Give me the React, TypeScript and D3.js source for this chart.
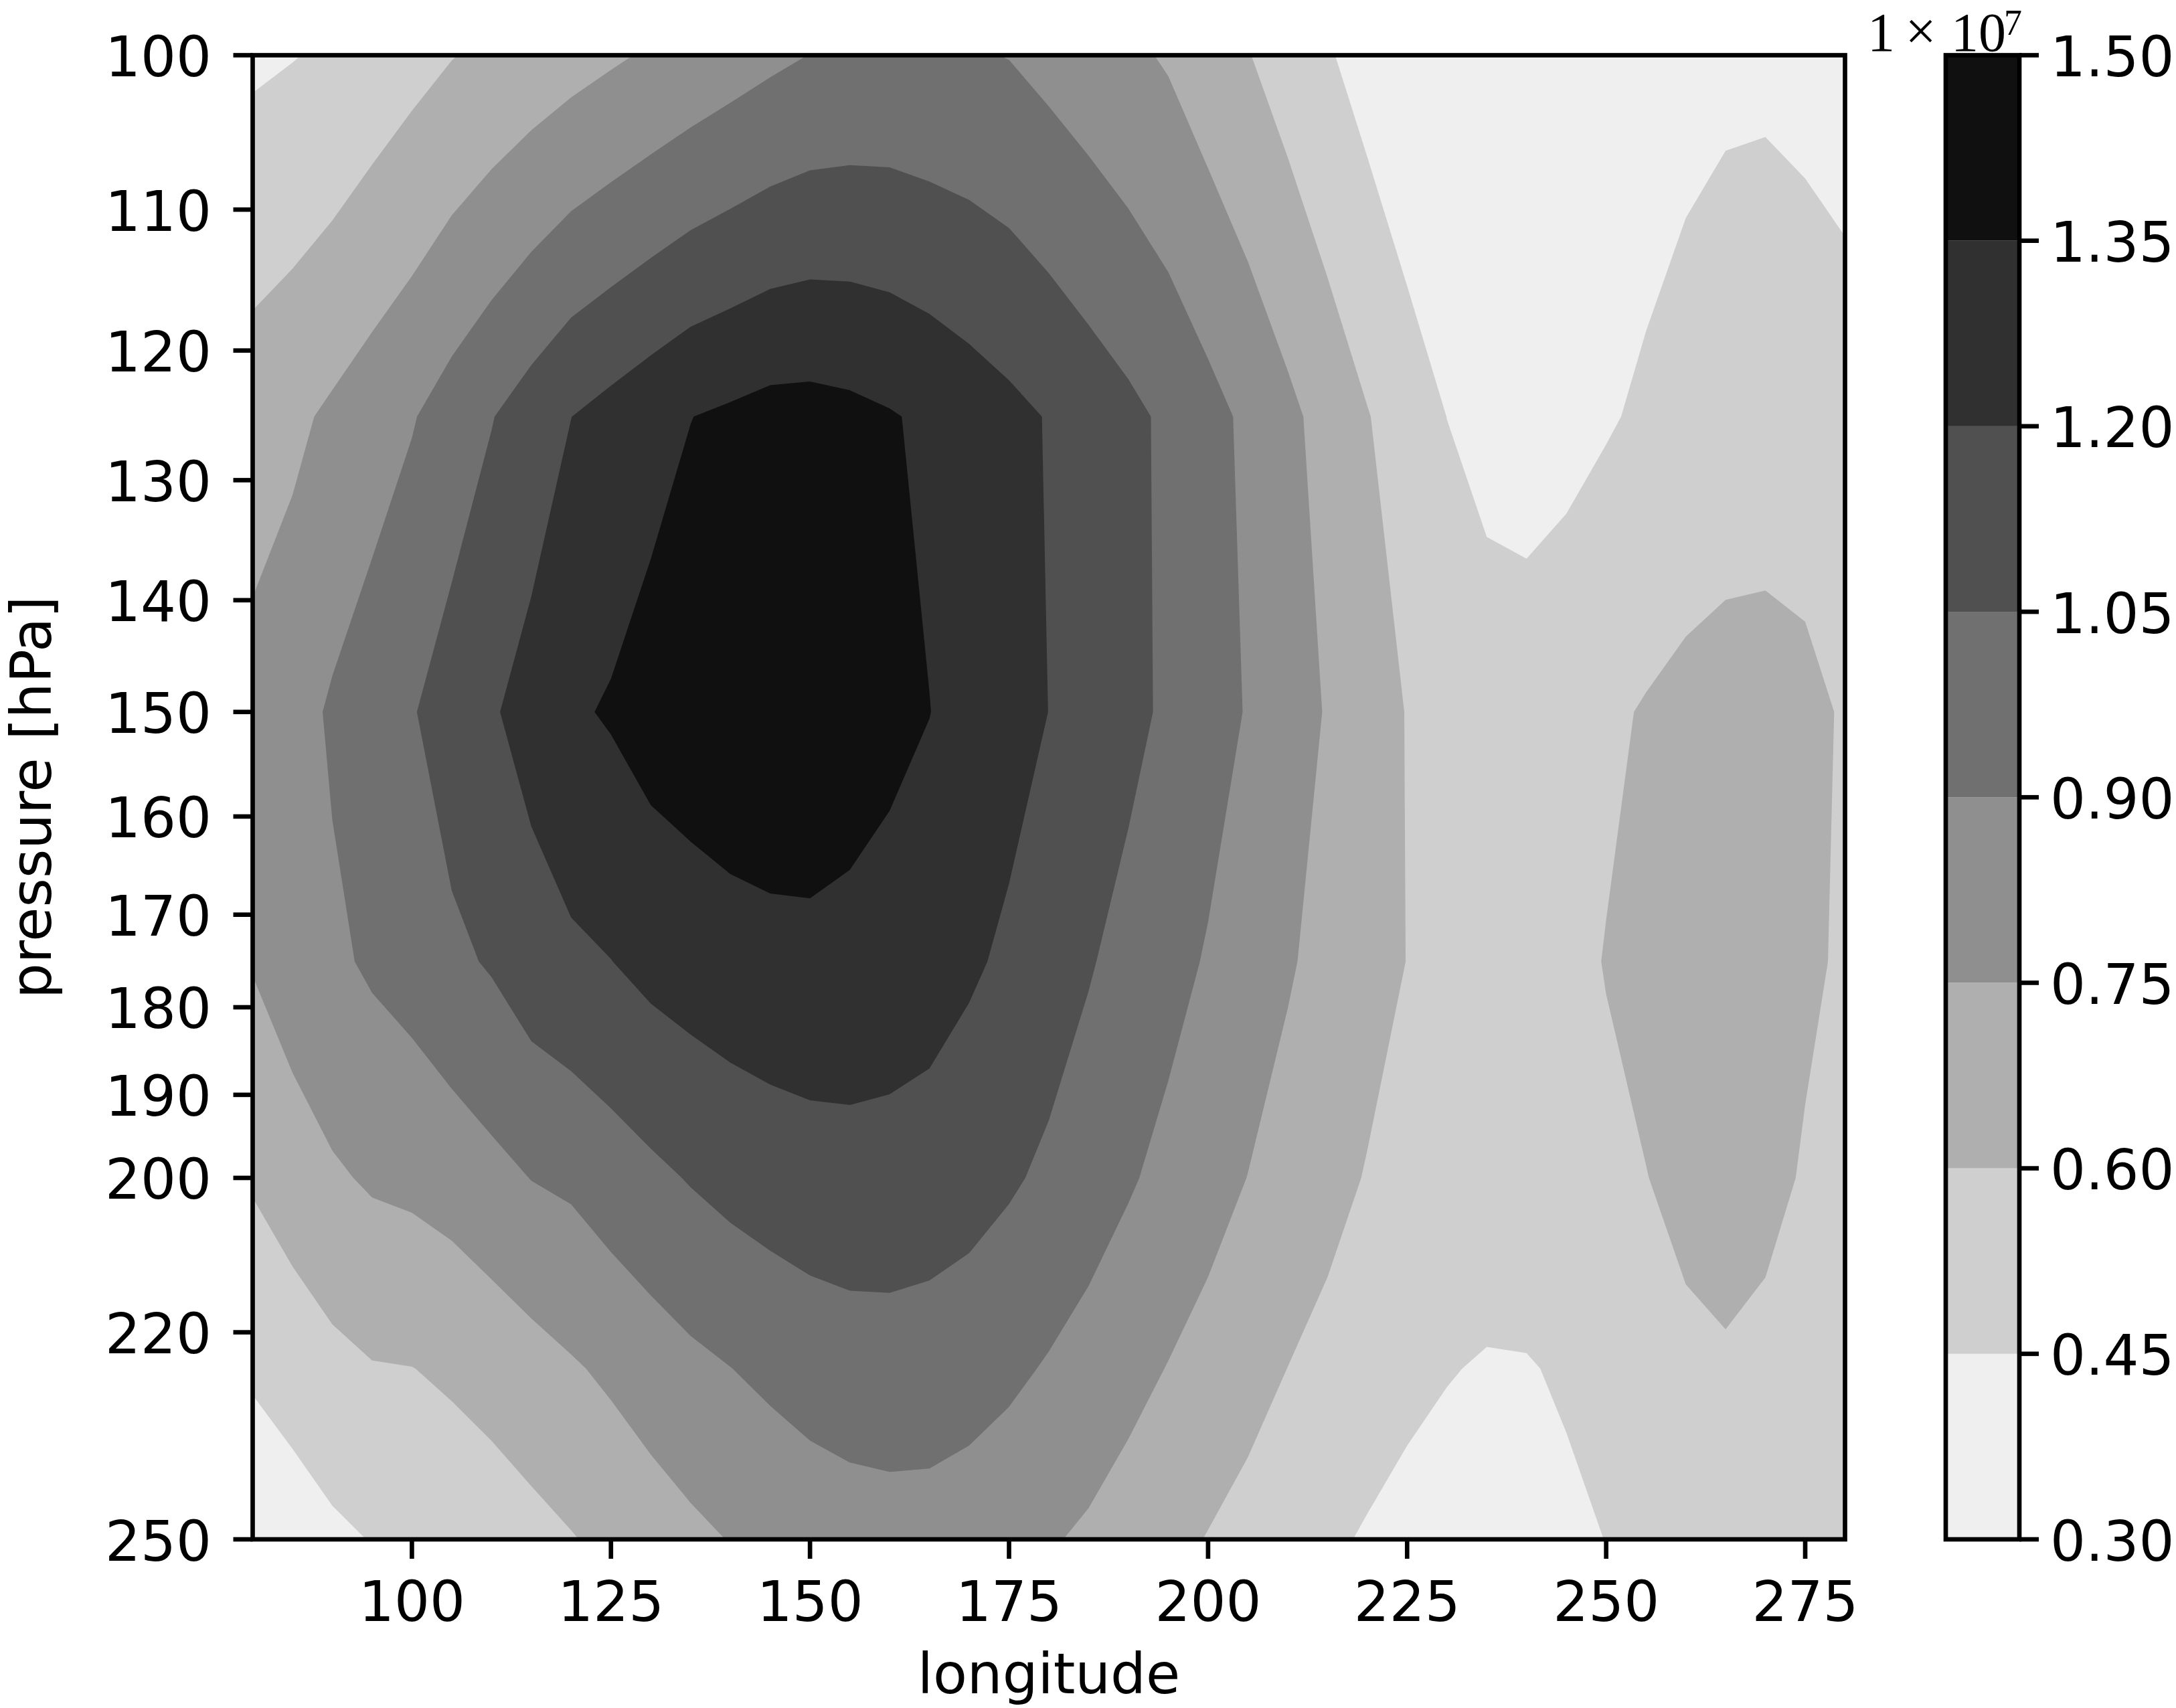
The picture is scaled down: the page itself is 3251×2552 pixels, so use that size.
import React from 'react';
import * as d3 from 'd3';

// ---------------- data (values in units of 1e7) ----------------
const LONGITUDES = [
  80, 85, 90, 95, 100, 105, 110, 115, 120, 125, 130, 135, 140, 145, 150, 155, 160, 165, 170, 175,
  180, 185, 190, 195, 200, 205, 210, 215, 220, 225, 230, 235, 240, 245, 250, 255, 260, 265, 270, 275, 280,
];
const PRESSURE_LEVELS = [100, 125, 150, 175, 200, 225, 250];

const VAL_P100 = [
  0.426, 0.445, 0.468, 0.510, 0.553, 0.595, 0.629, 0.663, 0.697, 0.731, 0.765, 0.800, 0.836, 0.871, 0.902,
  0.918, 0.925, 0.918, 0.912, 0.896, 0.857, 0.818, 0.778, 0.735, 0.669, 0.606, 0.535, 0.463, 0.395, 0.330,
  0.320, 0.320, 0.325, 0.340, 0.360, 0.392, 0.428, 0.433, 0.433, 0.419, 0.396,
];
const VAL_P125 = [
  0.681, 0.720, 0.775, 0.832, 0.890, 0.968, 1.044, 1.122, 1.199, 1.249, 1.299, 1.348, 1.374, 1.401, 1.404,
  1.388, 1.361, 1.325, 1.281, 1.238, 1.192, 1.138, 1.085, 1.023, 0.949, 0.871, 0.785, 0.696, 0.607, 0.526,
  0.449, 0.403, 0.395, 0.412, 0.438, 0.470, 0.480, 0.503, 0.515, 0.517, 0.510,
];
const VAL_P150 = [
  0.798, 0.841, 0.919, 0.981, 1.040, 1.120, 1.185, 1.255, 1.330, 1.364, 1.410, 1.433, 1.458, 1.471, 1.440,
  1.425, 1.387, 1.352, 1.303, 1.251, 1.199, 1.144, 1.087, 1.027, 0.959, 0.891, 0.815, 0.740, 0.665, 0.595,
  0.555, 0.525, 0.515, 0.535, 0.577, 0.610, 0.645, 0.665, 0.665, 0.640, 0.585,
];
const VAL_P175 = [
  0.759, 0.832, 0.873, 0.921, 0.960, 1.020, 1.064, 1.130, 1.170, 1.198, 1.241, 1.267, 1.287, 1.301, 1.317,
  1.303, 1.289, 1.274, 1.221, 1.175, 1.117, 1.061, 1.004, 0.946, 0.888, 0.826, 0.764, 0.707, 0.651, 0.598,
  0.570, 0.555, 0.550, 0.565, 0.605, 0.629, 0.650, 0.665, 0.660, 0.620, 0.585,
];
const VAL_P200 = [
  0.614, 0.667, 0.731, 0.767, 0.782, 0.810, 0.857, 0.903, 0.925, 0.975, 1.018, 1.059, 1.094, 1.118, 1.130,
  1.144, 1.140, 1.119, 1.104, 1.068, 1.024, 0.975, 0.915, 0.860, 0.804, 0.748, 0.696, 0.644, 0.592, 0.575,
  0.555, 0.545, 0.545, 0.555, 0.570, 0.598, 0.625, 0.640, 0.635, 0.589, 0.560,
];
const VAL_P225 = [
  0.471, 0.518, 0.558, 0.592, 0.598, 0.620, 0.650, 0.692, 0.735, 0.775, 0.822, 0.865, 0.898, 0.933, 0.969,
  0.981, 0.987, 0.987, 0.962, 0.930, 0.887, 0.839, 0.795, 0.745, 0.697, 0.647, 0.599, 0.557, 0.525, 0.489,
  0.458, 0.437, 0.441, 0.467, 0.500, 0.540, 0.579, 0.589, 0.566, 0.550, 0.535,
];
const VAL_P250 = [
  0.329, 0.369, 0.422, 0.455, 0.482, 0.510, 0.528, 0.556, 0.592, 0.633, 0.675, 0.717, 0.755, 0.775, 0.800,
  0.830, 0.840, 0.835, 0.820, 0.790, 0.762, 0.729, 0.682, 0.638, 0.594, 0.554, 0.515, 0.475, 0.436, 0.400,
  0.380, 0.370, 0.380, 0.420, 0.452, 0.480, 0.500, 0.515, 0.520, 0.520, 0.515,
];

const CONTOUR_LEVELS = [0.3, 0.45, 0.6, 0.75, 0.9, 1.05, 1.2, 1.35, 1.5];
const LEVEL_LABELS = ['0.30', '0.45', '0.60', '0.75', '0.90', '1.05', '1.20', '1.35', '1.50'];
const BAND_COLORS = ['#efefef', '#cfcfcf', '#afafaf', '#8f8f8f', '#707070', '#505050', '#303030', '#101010'];
const X_TICKS = [100, 125, 150, 175, 200, 225, 250, 275];
const Y_TICKS = [100, 110, 120, 130, 140, 150, 160, 170, 180, 190, 200, 220, 250];

// ---------------- layout ----------------
const W = 3251;
const H = 2552;
const X0 = 377.5;
const X1 = 2756.5;
const Y0 = 82.5;
const Y1 = 2300;
const CB_X0 = 2907;
const CB_X1 = 3017;
const FS = 83.3;
const LW = 6.67;
const TICK = 29;
const SANS = 'DejaVu Sans';

export default function App() {
  const rows = [VAL_P100, VAL_P125, VAL_P150, VAL_P175, VAL_P200, VAL_P225, VAL_P250];
  const nx = LONGITUDES.length;
  const ny = PRESSURE_LEVELS.length;
  const values = rows.flat();

  const x = d3.scaleLinear().domain([80, 280]).range([X0, X1]);
  const y = d3.scaleLog().domain([100, 250]).range([Y0, Y1]);
  const colToLon = d3.scaleLinear().domain(d3.range(nx)).range(LONGITUDES);
  const rowToP = d3.scaleLinear().domain(d3.range(ny)).range(PRESSURE_LEVELS);

  const transform = d3.geoTransform({
    point(this: any, gx: number, gy: number) {
      const ci = Math.max(0, Math.min(nx - 1, gx - 0.5));
      const ri = Math.max(0, Math.min(ny - 1, gy - 0.5));
      this.stream.point(x(colToLon(ci)), y(rowToP(ri)));
    },
  });
  const path = d3.geoPath(transform);
  const contours = d3
    .contours()
    .size([nx, ny])
    .thresholds(CONTOUR_LEVELS.slice(0, -1))(values);

  const cb = d3.scaleLinear().domain([0.3, 1.5]).range([Y1, Y0]);

  return (
    <div style={{ position: 'absolute', left: 0, top: 0 }}>
      <svg width={W} height={H} viewBox={`0 0 ${W} ${H}`} style={{ display: 'block', background: '#ffffff' }}>
        <rect x={0} y={0} width={W} height={H} fill="#ffffff" />
        <defs>
          <clipPath id="plotclip">
            <rect x={X0} y={Y0} width={X1 - X0} height={Y1 - Y0} />
          </clipPath>
        </defs>

        {/* filled contours */}
        <g clipPath="url(#plotclip)">
          {contours.map((c, i) => {
            const d = path(c as any);
            if (!d) return null;
            return <path key={i} d={d} fill={BAND_COLORS[i]} fillRule="evenodd" stroke="none" />;
          })}
        </g>

        {/* axes frame */}
        <rect x={X0} y={Y0} width={X1 - X0} height={Y1 - Y0} fill="none" stroke="#000" strokeWidth={LW} />

        {/* x ticks */}
        {X_TICKS.map((t) => (
          <g key={'xt' + t}>
            <line x1={x(t)} x2={x(t)} y1={Y1} y2={Y1 + TICK} stroke="#000" strokeWidth={LW} />
            <text x={x(t)} y={2422} fontFamily={SANS} fontSize={FS} textAnchor="middle" fill="#000">
              {t}
            </text>
          </g>
        ))}

        {/* y ticks */}
        {Y_TICKS.map((t) => (
          <g key={'yt' + t}>
            <line x1={X0 - TICK} x2={X0} y1={y(t)} y2={y(t)} stroke="#000" strokeWidth={LW} />
            <text x={316} y={y(t) + 31.5} fontFamily={SANS} fontSize={FS} textAnchor="end" fill="#000">
              {t}
            </text>
          </g>
        ))}

        {/* axis labels */}
        <text x={(X0 + X1) / 2} y={2530} fontFamily={SANS} fontSize={FS} textAnchor="middle" fill="#000">
          longitude
        </text>
        <text
          transform={`translate(76, ${(Y0 + Y1) / 2}) rotate(-90)`}
          fontFamily={SANS}
          fontSize={FS}
          textAnchor="middle"
          fill="#000"
        >
          pressure [hPa]
        </text>

        {/* colorbar */}
        {BAND_COLORS.map((col, i) => (
          <rect
            key={'cb' + i}
            x={CB_X0}
            y={cb(CONTOUR_LEVELS[i + 1])}
            width={CB_X1 - CB_X0}
            height={cb(CONTOUR_LEVELS[i]) - cb(CONTOUR_LEVELS[i + 1])}
            fill={col}
          />
        ))}
        <rect x={CB_X0} y={Y0} width={CB_X1 - CB_X0} height={Y1 - Y0} fill="none" stroke="#000" strokeWidth={LW} />
        {CONTOUR_LEVELS.map((lv, i) => (
          <g key={'cbt' + i}>
            <line x1={CB_X1} x2={CB_X1 + TICK} y1={cb(lv)} y2={cb(lv)} stroke="#000" strokeWidth={LW} />
            <text x={3063} y={cb(lv) + 31.5} fontFamily={SANS} fontSize={FS} textAnchor="start" fill="#000">
              {LEVEL_LABELS[i]}
            </text>
          </g>
        ))}

        {/* offset text 1x10^7 */}
        <g fontFamily="Liberation Serif" fill="#000">
          <text x={2790} y={76} fontSize={82}>1</text>
          <text x={2869.5} y={74} fontSize={82} textAnchor="middle">×</text>
          <text x={2915} y={76} fontSize={82}>10</text>
          <text x={2994} y={52} fontSize={54}>7</text>
        </g>
      </svg>
    </div>
  );
}
